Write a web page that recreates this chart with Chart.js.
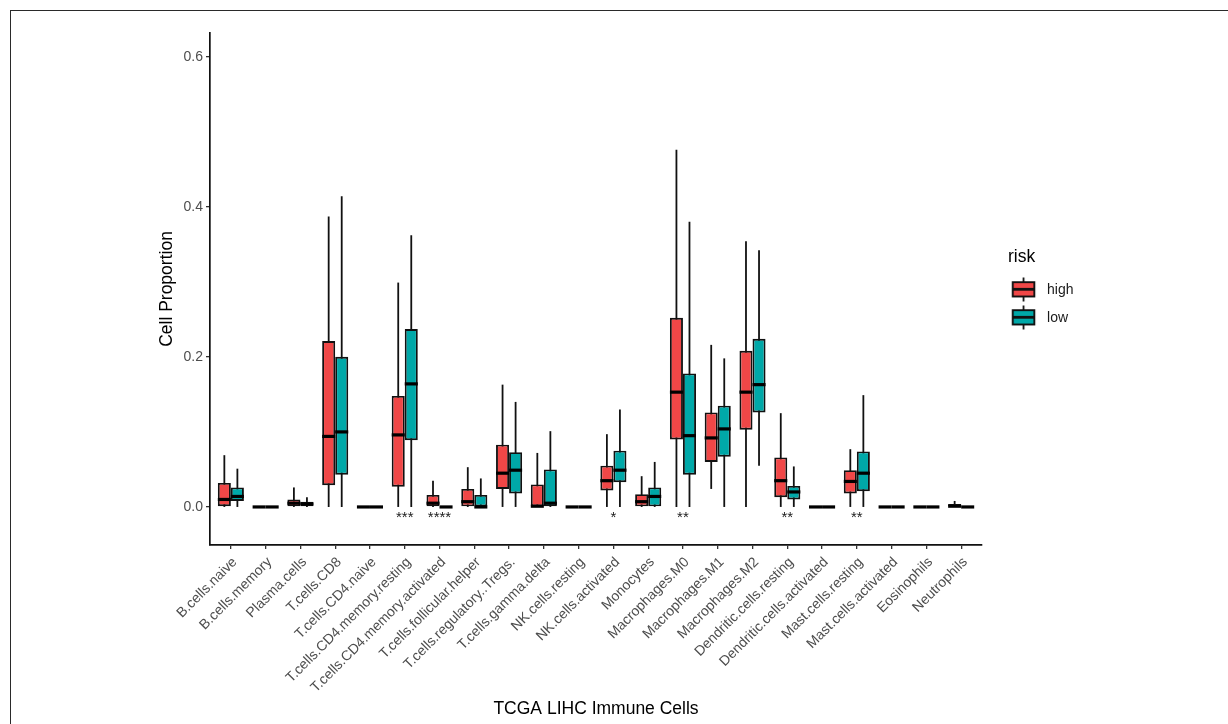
<!DOCTYPE html>
<html>
<head>
<meta charset="utf-8">
<script src="https://cdn.jsdelivr.net/npm/chart.js@4.4.1/dist/chart.umd.min.js"></script>
<style>
html, body { margin: 0; padding: 0; background: #ffffff; }
#wrap { position: relative; width: 1228px; height: 724px; overflow: hidden; }
#frame { position: absolute; left: 10px; top: 10px; width: 1240px; height: 740px; border-left: 1.8px solid #2a2a2a; border-top: 1.8px solid #2a2a2a; }
#c { position: absolute; left: 0; top: 0; }
</style>
</head>
<body>
<div id="wrap"><div id="frame"></div><canvas id="c" width="1228" height="724"></canvas></div>
<script>
// ---- data ----
const categories = [
  'B.cells.naive', 'B.cells.memory', 'Plasma.cells', 'T.cells.CD8', 'T.cells.CD4.naive',
  'T.cells.CD4.memory.resting', 'T.cells.CD4.memory.activated', 'T.cells.follicular.helper',
  'T.cells.regulatory..Tregs.', 'T.cells.gamma.delta', 'NK.cells.resting', 'NK.cells.activated',
  'Monocytes', 'Macrophages.M0', 'Macrophages.M1', 'Macrophages.M2', 'Dendritic.cells.resting',
  'Dendritic.cells.activated', 'Mast.cells.resting', 'Mast.cells.activated', 'Eosinophils', 'Neutrophils'
];
const groups = ['high', 'low'];

const highMin = [0, 0, 0, 0, 0, 0, 0, 0, 0, 0, 0, 0, 0, 0, 0.024, 0, 0, 0, 0, 0, 0, 0];
const highQ1  = [0.001, 0, 0, 0.029, 0, 0.027, 0, 0, 0.024, 0, 0, 0.022, 0, 0.090, 0.060, 0.103, 0.013, 0, 0.018, 0, 0, 0];
const highMed = [0.010, 0, 0.005, 0.094, 0, 0.096, 0.005, 0.007, 0.045, 0.001, 0, 0.035, 0.007, 0.153, 0.092, 0.153, 0.035, 0, 0.034, 0, 0, 0.001];
const highQ3  = [0.032, 0, 0.010, 0.221, 0, 0.148, 0.016, 0.024, 0.083, 0.030, 0, 0.055, 0.017, 0.252, 0.126, 0.208, 0.066, 0, 0.049, 0, 0, 0.004];
const highMax = [0.069, 0, 0.026, 0.387, 0, 0.299, 0.035, 0.053, 0.163, 0.072, 0, 0.097, 0.041, 0.476, 0.216, 0.354, 0.125, 0, 0.077, 0, 0, 0.008];

const lowMin = [0, 0, 0, 0, 0, 0, 0, 0, 0, 0, 0, 0, 0, 0, 0, 0.055, 0, 0, 0, 0, 0, 0];
const lowQ1  = [0.008, 0, 0, 0.043, 0, 0.089, 0, 0, 0.018, 0, 0, 0.033, 0, 0.043, 0.067, 0.126, 0.010, 0, 0.021, 0, 0, 0];
const lowMed = [0.014, 0, 0.004, 0.100, 0, 0.164, 0, 0, 0.049, 0.005, 0, 0.049, 0.014, 0.095, 0.104, 0.163, 0.020, 0, 0.045, 0, 0, 0];
const lowQ3  = [0.026, 0, 0.007, 0.200, 0, 0.237, 0, 0.016, 0.073, 0.050, 0, 0.075, 0.026, 0.178, 0.135, 0.224, 0.028, 0, 0.074, 0, 0, 0];
const lowMax = [0.051, 0, 0.013, 0.414, 0, 0.362, 0, 0.038, 0.140, 0.101, 0, 0.130, 0.060, 0.380, 0.198, 0.342, 0.054, 0, 0.149, 0, 0, 0];

const significance = ['', '', '', '', '', '***', '****', '', '', '', '', '*', '', '**', '', '', '**', '', '**', '', '', ''];
const yTickValues = [0, 0.2, 0.4, 0.6];

// ---- styling / layout ----
const FONT = "'Liberation Sans', Arial, Helvetica, sans-serif";
const COLORS = ['#F04747', '#00A8A8'];
const STAR_LEVEL = -0.0195;
const stats = [
  { min: highMin, med: highMed, max: highMax },
  { min: lowMin,  med: lowMed,  max: lowMax }
];

function makeGlyph(color) {
  const c = document.createElement('canvas');
  c.width = 40; c.height = 26;
  const g = c.getContext('2d');
  const cx = 12.5;
  g.strokeStyle = '#111';
  g.lineWidth = 1.8;
  g.beginPath(); g.moveTo(cx, 0.5); g.lineTo(cx, 24.5); g.stroke();
  g.fillStyle = color;
  g.fillRect(1.7, 5.2, 21.6, 14.3);
  g.lineWidth = 1.9;
  g.strokeRect(1.7, 5.2, 21.6, 14.3);
  g.lineWidth = 2.8;
  g.beginPath(); g.moveTo(1.7, 12.3); g.lineTo(23.3, 12.3); g.stroke();
  return c;
}
const glyphs = COLORS.map(makeGlyph);

const boxParts = {
  id: 'boxParts',
  beforeDatasetsDraw(chart) {
    const ys = chart.scales.y, ctx = chart.ctx;
    ctx.save();
    ctx.strokeStyle = '#111';
    ctx.lineWidth = 1.8;
    stats.forEach((s, d) => {
      chart.getDatasetMeta(d).data.forEach((el, i) => {
        const a = ys.getPixelForValue(s.min[i]);
        const b = ys.getPixelForValue(s.max[i]);
        if (Math.abs(a - b) < 0.5) return;
        ctx.beginPath(); ctx.moveTo(el.x, a); ctx.lineTo(el.x, b); ctx.stroke();
      });
    });
    ctx.restore();
  },
  afterDatasetsDraw(chart) {
    const ys = chart.scales.y, xs = chart.scales.x, ctx = chart.ctx;
    ctx.save();
    ctx.strokeStyle = '#000';
    ctx.lineWidth = 3.2;
    ctx.lineCap = 'butt';
    stats.forEach((s, d) => {
      chart.getDatasetMeta(d).data.forEach((el, i) => {
        const py = ys.getPixelForValue(s.med[i]);
        const h = el.width / 2;
        ctx.beginPath(); ctx.moveTo(el.x - h, py); ctx.lineTo(el.x + h, py); ctx.stroke();
      });
    });
    ctx.fillStyle = '#1a1a1a';
    ctx.font = '15px ' + FONT;
    ctx.textAlign = 'center';
    ctx.textBaseline = 'alphabetic';
    significance.forEach((t, i) => {
      if (!t) return;
      ctx.fillText(t, xs.getPixelForValue(i), ys.getPixelForValue(STAR_LEVEL));
    });
    ctx.restore();
  }
};

const boxData = (q1, q3) => categories.map((_, i) => ({ x: i, y: [q1[i], q3[i]] }));

new Chart(document.getElementById('c'), {
  type: 'bar',
  data: {
    datasets: [
      { label: groups[0], data: boxData(highQ1, highQ3), backgroundColor: COLORS[0], borderColor: '#111', borderWidth: 1.9, borderSkipped: false, categoryPercentage: 0.75, barPercentage: 1.0 },
      { label: groups[1], data: boxData(lowQ1, lowQ3), backgroundColor: COLORS[1], borderColor: '#111', borderWidth: 1.9, borderSkipped: false, categoryPercentage: 0.75, barPercentage: 1.0 }
    ]
  },
  options: {
    responsive: false,
    animation: false,
    events: [],
    layout: { padding: { left: 12, top: 33, right: 144.5, bottom: 0 } },
    scales: {
      x: {
        type: 'linear', min: -0.6, max: 21.6, offset: false,
        afterBuildTicks: s => { s.ticks = categories.map((_, i) => ({ value: i })); },
        afterFit: s => { s.height = 179; },
        ticks: {
          autoSkip: false, minRotation: 45, maxRotation: 45, padding: 5, labelOffset: 4,
          color: '#4d4d4d', font: { size: 14, family: FONT },
          callback: v => categories[Math.round(v)]
        },
        grid: { display: true, drawOnChartArea: false, drawTicks: true, tickLength: 4, color: '#333', lineWidth: 1.3, offset: false },
        border: { display: true, color: '#111', width: 1.7 },
        title: { display: true, text: 'TCGA LIHC Immune Cells', color: '#000', font: { size: 17.5, family: FONT }, padding: { top: 0, bottom: 4 } }
      },
      y: {
        type: 'linear', min: -0.0507, max: 0.6316,
        afterBuildTicks: s => { s.ticks = yTickValues.map(v => ({ value: v })); },
        afterFit: s => { s.width = 198; },
        ticks: { padding: 3, color: '#4d4d4d', font: { size: 14, family: FONT }, callback: v => v.toFixed(1) },
        grid: { display: true, drawOnChartArea: false, drawTicks: true, tickLength: 4, color: '#333', lineWidth: 1.3 },
        border: { display: true, color: '#111', width: 1.7 },
        title: { display: true, text: 'Cell Proportion', color: '#000', font: { size: 17.5, family: FONT }, padding: { top: 145, bottom: 0 } }
      },
      y2: {
        type: 'linear', position: 'right', display: true,
        grid: { display: false }, ticks: { display: false }, border: { display: false },
        afterFit: s => { s.width = 26; }
      }
    },
    plugins: {
      tooltip: { enabled: false },
      legend: {
        position: 'right', align: 'center', fullSize: false,
        title: { display: true, text: 'risk', position: 'start', color: '#000', font: { size: 17.5, family: FONT }, padding: { top: 9, bottom: 0 } },
        labels: {
          usePointStyle: true, pointStyleWidth: 18, padding: 14,
          color: '#1a1a1a', font: { size: 14, family: FONT },
          generateLabels: chart => chart.data.datasets.map((ds, i) => ({
            text: ds.label, pointStyle: glyphs[i], datasetIndex: i, hidden: false,
            fillStyle: ds.backgroundColor, strokeStyle: '#111', lineWidth: 0, fontColor: '#1a1a1a'
          }))
        }
      }
    }
  },
  plugins: [boxParts]
});
</script>
</body>
</html>
